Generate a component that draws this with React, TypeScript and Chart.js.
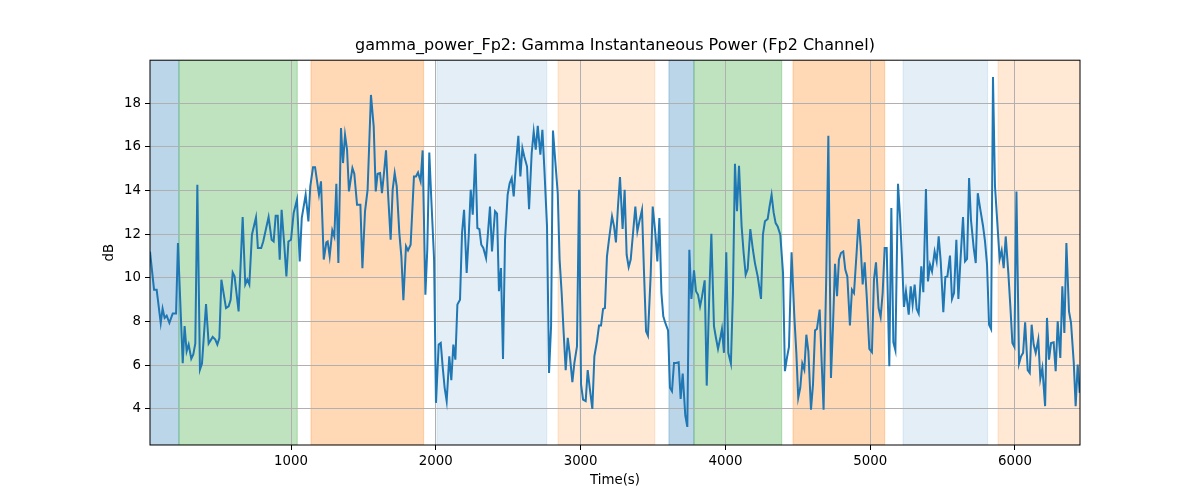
import { useEffect, useRef } from "react"
import Chart from "chart.js/auto"

// time (s) and gamma power (dB)
const times = [
  26, 54, 72, 100, 113, 127, 141, 160, 183, 206, 219, 252, 265, 279, 293, 311, 325, 339, 353, 371,
  385, 413, 431, 459, 477, 491, 505, 519, 551, 569, 583, 597, 610, 638, 666, 684, 698, 712, 730, 758,
  771, 794, 808, 845,
  866, 880, 894, 908, 922, 935, 954, 968, 982, 1000, 1018, 1041, 1060, 1074, 1101, 1120, 1133, 1152,
  1166, 1193, 1207, 1226, 1244, 1253, 1267, 1285, 1299, 1313, 1327, 1345, 1359, 1373, 1387, 1400,
  1424, 1437, 1456, 1479, 1493, 1511, 1529, 1552, 1571, 1585, 1598,
  1615, 1628, 1642, 1656, 1670, 1688, 1702, 1716, 1730, 1748, 1762, 1776, 1794, 1808, 1826, 1849,
  1863, 1877, 1886, 1895, 1909, 1928, 1941, 1955, 1969, 1988, 2001, 2020, 2034, 2047, 2061, 2075,
  2093, 2107, 2121, 2135, 2149, 2167, 2181, 2195, 2213, 2227, 2241, 2255, 2273, 2287, 2301, 2314,
  2328, 2347, 2360, 2374, 2388,
  2409, 2423, 2436, 2450, 2464, 2478, 2496, 2510, 2524, 2538, 2552, 2570, 2584, 2598, 2611, 2630,
  2644, 2662, 2676, 2690, 2704, 2722, 2736, 2750, 2768, 2782, 2796, 2809, 2828, 2842, 2855, 2869,
  2883, 2897, 2911, 2924, 2943, 2957, 2975, 2989, 3003, 3017, 3035, 3049, 3063, 3081, 3095, 3113,
  3127, 3141, 3155, 3168, 3182, 3196,
  3217, 3231, 3244, 3258, 3272, 3290, 3304, 3318, 3332, 3346, 3364, 3378, 3392, 3406, 3424, 3438,
  3452, 3465, 3484, 3498, 3516, 3530, 3544, 3558, 3571, 3585, 3604, 3617, 3631, 3645, 3659, 3677,
  3691, 3705, 3723, 3737, 3751, 3765, 3783, 3797, 3811, 3825, 3838, 3857, 3871, 3889, 3903, 3921,
  3935, 3949, 3967, 3976, 3990,
  4006, 4020, 4038, 4052, 4066, 4080, 4094, 4112, 4126, 4140, 4154, 4172, 4190, 4204, 4223, 4246,
  4259, 4273, 4292, 4305, 4319, 4333, 4347, 4361, 4379, 4398, 4411, 4425, 4439, 4457, 4476, 4490,
  4503, 4517, 4531, 4545, 4559, 4573, 4591, 4605, 4619, 4632, 4651, 4665, 4678, 4697, 4711, 4729,
  4743, 4757, 4771, 4784, 4798,
  4814, 4828, 4842, 4860, 4874, 4888, 4906, 4920, 4934, 4948, 4962, 4976, 4994, 5012, 5026, 5040,
  5058, 5072, 5086, 5100, 5114, 5132, 5146, 5160, 5174, 5192, 5206, 5220, 5233, 5247, 5266, 5280,
  5293, 5307, 5321, 5335, 5353, 5367, 5385, 5399, 5413, 5427, 5445, 5459, 5473, 5487, 5505, 5519,
  5533, 5551, 5565, 5579,
  5595, 5609, 5623, 5641, 5655, 5669, 5683, 5696, 5715, 5729, 5743, 5761, 5779, 5793, 5807, 5821,
  5835, 5848, 5862, 5881, 5894, 5908, 5922, 5936, 5954, 5968, 5982, 5996, 6010, 6028, 6042, 6056,
  6070, 6088, 6102, 6115, 6129, 6143, 6161, 6175, 6189, 6208, 6221, 6235, 6249, 6267, 6281, 6295,
  6313, 6327, 6341, 6355, 6373, 6387, 6406, 6419, 6433, 6447,
]

const power = [
  11.2, 9.46, 9.46, 7.94, 8.6, 8.17, 8.27, 7.94, 8.37, 8.37, 11.6, 6.1, 7.8, 6.64, 6.95, 6.3, 6.5, 7.0, 14.27, 5.8,
  6.08, 8.8, 7.0, 7.3, 7.18, 6.95, 7.25, 9.92, 8.62, 8.7, 9.0, 10.25, 10.07, 8.47, 12.79, 9.7, 9.92, 9.7, 11.98, 12.77,
  11.37, 11.37, 11.67, 12.79,
  11.75, 11.67, 12.85, 12.85, 10.84, 13.12, 11.45, 10.07, 11.67, 11.75, 12.97, 13.58, 10.76, 12.74, 13.81, 12.59, 14.19, 15.07,
  15.07, 13.81, 14.42, 10.84, 11.63, 11.67, 10.99, 12.18, 11.9, 14.31, 10.68, 16.86, 15.26, 16.55, 15.87, 13.96,
  15.03, 14.77, 13.35, 13.35, 10.45, 13.05, 14.04, 18.38, 16.93, 13.96, 14.77,
  14.8, 13.88, 14.8, 15.84, 13.88, 11.75, 14.04, 14.8, 14.19, 12.05, 10.99, 8.98, 11.45, 11.26, 11.52, 14.65,
  14.65, 14.83, 14.62, 14.42, 15.84, 9.23, 11.3, 15.74, 13.58, 10.84, 4.28, 6.95, 7.02, 5.96, 4.97, 4.36,
  6.41, 5.32, 6.95, 6.26, 8.78, 9.0, 12.05, 13.12, 10.23, 11.9, 14.04, 12.9, 15.68, 12.28, 12.23, 11.52,
  11.37, 10.91, 12.05, 13.27, 11.21,
  13.05, 12.94, 9.39, 10.45, 6.29, 11.75, 13.81, 14.34, 14.57, 13.73, 15.1, 16.51, 14.65, 15.94, 15.56, 15.1,
  13.15, 15.71, 16.7, 15.87, 16.96, 15.64, 16.78, 14.95, 12.36, 5.65, 7.79, 16.75, 15.1, 13.88, 10.84, 9.32,
  7.48, 5.78, 7.26, 6.57, 5.23, 6.11, 6.87, 14.04, 5.12, 4.43, 4.36, 5.78, 4.97, 4.0, 6.41, 7.1,
  7.82, 7.82, 8.58, 8.62, 10.99, 11.75,
  12.82, 12.36, 11.63, 13.27, 14.62, 12.24, 14.04, 11.06, 10.5, 10.84, 12.2, 13.27, 12.13, 12.59, 13.12, 10.23,
  7.56, 7.36, 10.15, 13.27, 12.05, 10.76, 12.74, 9.31, 8.24, 7.94, 7.6, 4.97, 4.81, 6.11, 6.11, 6.14,
  4.46, 5.62, 3.7, 3.18, 11.29, 9.04, 10.35, 9.39, 9.23, 8.7, 9.13, 9.89, 5.07, 9.31, 12.02, 7.79,
  7.25, 6.75, 7.33, 7.66, 6.57,
  11.17, 6.57, 6.08, 9.31, 15.23, 13.05, 15.13, 12.36, 11.14, 10.15, 10.41, 12.24, 11.29, 10.68, 10.07, 9.04,
  11.98, 12.59, 12.7, 13.27, 13.81, 13.0, 12.51, 12.36, 11.98, 10.23, 5.73, 6.34, 6.84, 11.17, 8.24, 6.57,
  4.51, 4.97, 6.08, 5.8, 7.4, 6.64, 3.97, 5.12, 7.6, 7.66, 8.55, 6.11, 3.97, 10.23, 16.51, 5.42,
  7.79, 10.65, 9.16, 10.84, 11.14,
  11.21, 10.38, 10.07, 7.82, 9.46, 9.31, 11.14, 12.7, 11.45, 9.7, 10.71, 9.16, 6.75, 6.6, 9.92, 10.71,
  8.62, 8.21, 9.31, 11.37, 11.37, 5.96, 13.2, 7.05, 6.69, 14.31, 12.82, 10.84, 8.67, 9.39, 8.32, 9.62,
  8.78, 9.7, 8.58, 8.37, 10.53, 9.35, 14.07, 9.84, 10.61, 10.3, 11.21, 10.76, 11.9, 10.76, 8.43, 10.04,
  10.07, 11.02, 9.04, 9.31,
  11.75, 9.04, 10.76, 12.79, 10.76, 10.87, 14.57, 12.66, 11.37, 10.68, 13.88, 13.12, 12.39, 11.67, 10.61, 7.86,
  7.66, 19.2, 14.19, 12.2, 10.87, 11.26, 10.45, 11.9, 10.23, 8.7, 7.02, 6.84, 13.96, 6.08, 6.41, 6.57,
  7.97, 5.78, 5.65, 7.86, 6.95, 6.57, 7.18, 5.38, 5.88, 4.13, 8.17, 6.26, 7.02, 7.05, 5.73, 8.01,
  6.34, 9.62, 7.48, 11.6, 8.47, 7.94, 6.11, 4.13, 6.03, 4.74,
]

// shaded stage spans (start, end in seconds, and their kind)
const spanStart = [0, 226, 1138, 2008, 2844, 3610, 3783, 4467, 5227, 5883]
const spanEnd = [226, 1043, 1916, 2766, 3512, 3783, 4389, 5100, 5811, 6500]
const spanKind = ["blue", "green", "orange", "paleBlue", "paleOrange", "blue", "green", "orange", "paleBlue", "paleOrange"]

const xTicks = [1000, 2000, 3000, 4000, 5000, 6000]
const yTicks = [4, 6, 8, 10, 12, 14, 16, 18]

const spanColors: Record<string, string> = {
  blue: "rgba(31, 119, 180, 0.3)",
  green: "rgba(44, 160, 44, 0.3)",
  orange: "rgba(255, 127, 14, 0.3)",
  paleBlue: "rgba(31, 119, 180, 0.12)",
  paleOrange: "rgba(255, 127, 14, 0.18)",
}

const spansPlugin = {
  id: "spans",
  beforeDraw(chart: any) {
    const { ctx, chartArea, scales } = chart
    const x = scales.x
    ctx.save()
    ctx.beginPath()
    ctx.rect(chartArea.left, chartArea.top, chartArea.width, chartArea.height)
    ctx.clip()
    spanStart.forEach((s, i) => {
      const x0 = x.getPixelForValue(s)
      const x1 = x.getPixelForValue(spanEnd[i])
      const c = spanColors[spanKind[i]]
      ctx.fillStyle = c
      ctx.fillRect(x0, chartArea.top, x1 - x0, chartArea.height)
      ctx.strokeStyle = c
      ctx.lineWidth = 1
      ctx.strokeRect(x0, chartArea.top, x1 - x0, chartArea.height)
    })
    ctx.restore()
  },
  afterDatasetsDraw(chart: any) {
    const { ctx, chartArea } = chart
    ctx.save()
    ctx.strokeStyle = "#000"
    ctx.lineWidth = 1
    ctx.strokeRect(chartArea.left, chartArea.top, chartArea.width, chartArea.height)
    ctx.restore()
  },
}

export default function App() {
  const canvasRef = useRef<HTMLCanvasElement>(null)

  useEffect(() => {
    if (!canvasRef.current) return
    const font = { family: "'DejaVu Sans', sans-serif", size: 13.33 }

    const chart = new Chart(canvasRef.current, {
      type: "line",
      data: {
        datasets: [
          {
            data: times.map((t, i) => ({ x: t, y: power[i] })),
            borderColor: "#1f77b4",
            borderWidth: 2,
            pointRadius: 0,
            tension: 0,
            fill: false,
          },
        ],
      },
      options: {
        animation: false,
        responsive: true,
        maintainAspectRatio: false,
        layout: { padding: { left: 0, right: 120, top: 0, bottom: 0 } },
        plugins: {
          legend: { display: false },
          tooltip: { enabled: false },
          title: {
            display: true,
            fullSize: false,
            text: "gamma_power_Fp2: Gamma Instantaneous Power (Fp2 Channel)",
            color: "#000",
            font: { family: font.family, size: 16, weight: "normal" },
            padding: { top: 36, bottom: 5 },
          },
        },
        scales: {
          x: {
            type: "linear",
            min: 26,
            max: 6449,
            afterBuildTicks: (scale: any) => {
              scale.ticks = xTicks.map((v) => ({ value: v }))
            },
            afterFit: (scale: any) => {
              scale.height = 55
            },
            ticks: { color: "#000", font, padding: 4, maxRotation: 0, callback: (v: any) => String(v) },
            grid: { color: "#b0b0b0", lineWidth: 1, tickColor: "#000", tickLength: 5, tickWidth: 1 },
            border: { display: false },
            title: { display: true, text: "Time(s)", color: "#000", font, padding: { top: 0, bottom: 11 } },
          },
          y: {
            type: "linear",
            min: 2.35,
            max: 19.97,
            afterBuildTicks: (scale: any) => {
              scale.ticks = yTicks.map((v) => ({ value: v }))
            },
            afterFit: (scale: any) => {
              scale.width = 150
            },
            ticks: { color: "#000", font, padding: 4, callback: (v: any) => String(v) },
            grid: { color: "#b0b0b0", lineWidth: 1, tickColor: "#000", tickLength: 5, tickWidth: 1 },
            border: { display: false },
            title: { display: true, text: "dB", color: "#000", font, padding: { top: 102, bottom: 0 } },
          },
        },
      },
      plugins: [spansPlugin],
    })

    return () => {
      chart.destroy()
    }
  }, [])

  return (
    <div style={{ position: "absolute", left: 0, top: 0, width: 1200, height: 500, background: "#fff" }}>
      <canvas ref={canvasRef} />
    </div>
  )
}
